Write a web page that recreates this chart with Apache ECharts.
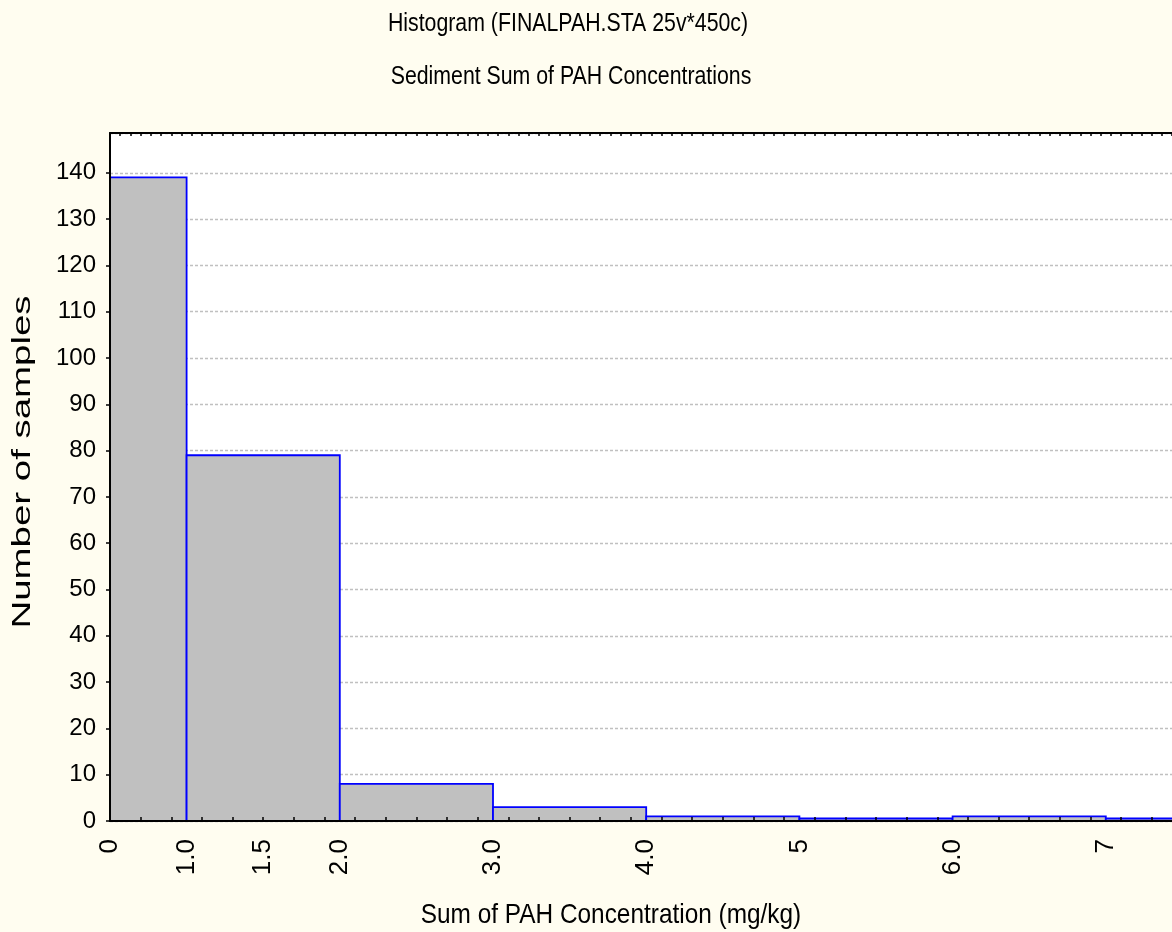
<!DOCTYPE html>
<html>
<head>
<meta charset="utf-8">
<script src="https://cdn.jsdelivr.net/npm/echarts@6/dist/echarts.min.js"></script>
<style>
  html, body { margin: 0; padding: 0; background: #fffdf0; }
  #main { width: 1172px; height: 932px; }
</style>
</head>
<body>
<div id="main"></div>
<script>
  // histogram bins, in axis units (1 unit = one label step of the original plot)
  const binEdges = [0, 1, 3, 5, 7, 9, 11, 13, 15];
  const binCounts = [139, 79, 8, 3, 1, 0, 1, 0];

  // tick labels on the x axis and where they sit
  const xLabelPos = [0, 1, 2, 3, 5, 7, 9, 11, 13];
  const xLabelText = ['0', '1.0', '1.5', '2.0', '3.0', '4.0', '5', '6.0', '7'];

  const yLabels = [0, 10, 20, 30, 40, 50, 60, 70, 80, 90, 100, 110, 120, 130, 140];

  const FONT = "'Liberation Sans', Arial, sans-serif";
  const X_MAX = 15;
  const Y_MAX = 148.6;

  // minor tick marks: every 0.4 unit on the bottom, a third of that on the top frame
  let bottomTicks = [];
  for (let i = 0; i <= 37; i++) bottomTicks.push(+(i * 0.4).toFixed(4));
  let topTicks = [];
  for (let i = 0; i <= 112; i++) topTicks.push(+(i * 0.4 / 3).toFixed(4));

  let myChart = echarts.init(document.getElementById('main'));

  let barData = binCounts.map((c, i) => [binEdges[i], binEdges[i + 1], c]);

  let options = {
    backgroundColor: '#fffdf0',
    animation: false,
    grid: {
      left: 110,
      top: 133,
      right: -87,
      bottom: 111,
      show: true,
      backgroundColor: '#fff',
      borderWidth: 0,
      containLabel: false,
      outerBoundsMode: 'none'
    },
    graphic: [
      {
        type: 'text', x: 568, y: 24, scaleY: 1.25,
        style: {
          text: 'Histogram (FINALPAH.STA 25v*450c)', fontSize: 21.3, fontFamily: FONT,
          align: 'center', verticalAlign: 'middle', fill: '#000'
        }
      },
      {
        type: 'text', x: 571, y: 77, scaleY: 1.25,
        style: {
          text: 'Sediment Sum of PAH Concentrations', fontSize: 21.3, fontFamily: FONT,
          align: 'center', verticalAlign: 'middle', fill: '#000'
        }
      },
      {
        type: 'text', x: 23, y: 462, rotation: Math.PI / 2, scaleX: 1.45,
        style: {
          text: 'Number of samples', fontSize: 26.5, fontFamily: FONT,
          align: 'center', verticalAlign: 'middle', fill: '#000'
        }
      },
      {
        type: 'text', x: 611, y: 915, scaleY: 1.12,
        style: {
          text: 'Sum of PAH Concentration (mg/kg)', fontSize: 24.4, fontFamily: FONT,
          align: 'center', verticalAlign: 'middle', fill: '#000'
        }
      }
    ],
    xAxis: [
      {
        type: 'value',
        position: 'bottom',
        min: 0,
        max: X_MAX,
        z: 5,
        axisLine: { show: true, onZero: false, lineStyle: { color: '#000', width: 2 } },
        axisTick: {
          show: true, inside: true, length: 4, customValues: bottomTicks,
          lineStyle: { color: '#000', width: 1.5 }
        },
        axisLabel: {
          customValues: xLabelPos,
          formatter: v => xLabelText[xLabelPos.indexOf(v)],
          rotate: 90,
          margin: 18,
          fontSize: 26,
          fontFamily: FONT,
          color: '#000'
        },
        splitLine: { show: false }
      },
      {
        type: 'value',
        position: 'top',
        min: 0,
        max: X_MAX,
        z: 5,
        axisLine: { show: true, onZero: false, lineStyle: { color: '#000', width: 2 } },
        axisTick: {
          show: true, inside: true, length: 3, customValues: topTicks,
          lineStyle: { color: '#000', width: 1.5 }
        },
        axisLabel: { show: false },
        splitLine: { show: false }
      }
    ],
    yAxis: [
      {
        type: 'value',
        position: 'left',
        min: 0,
        max: Y_MAX,
        interval: 10,
        z: 5,
        axisLine: { show: true, onZero: false, lineStyle: { color: '#000', width: 2 } },
        axisTick: {
          show: true, length: 4, customValues: yLabels,
          lineStyle: { color: '#000', width: 1.5 }
        },
        axisLabel: {
          customValues: yLabels,
          margin: 14,
          fontSize: 24,
          fontFamily: FONT,
          color: '#000'
        },
        splitLine: { show: false }
      },
      {
        // only carries the dashed grid lines, kept under the bars
        type: 'value',
        position: 'left',
        min: 0,
        max: Y_MAX,
        interval: 10,
        axisLine: { show: false },
        axisTick: { show: false },
        axisLabel: { show: false },
        splitLine: { show: true, lineStyle: { color: '#c0c0c0', type: [3, 2], width: 1.3 } }
      }
    ],
    series: [
      {
        type: 'custom',
        xAxisIndex: 0,
        yAxisIndex: 0,
        z: 2,
        renderItem: (params, api) => {
          let p0 = api.coord([api.value(0), api.value(2)]);
          let p1 = api.coord([api.value(1), 0]);
          // empty bins still show their outline just above the axis
          let top = Math.min(p0[1], p1[1] - 2.5);
          return {
            type: 'rect',
            shape: { x: p0[0], y: top, width: p1[0] - p0[0], height: p1[1] - top },
            style: { fill: '#c0c0c0', stroke: '#0000ff', lineWidth: 1.8 }
          };
        },
        encode: { x: [0, 1], y: 2 },
        data: barData
      }
    ]
  };

  myChart.setOption(options);
</script>
</body>
</html>
